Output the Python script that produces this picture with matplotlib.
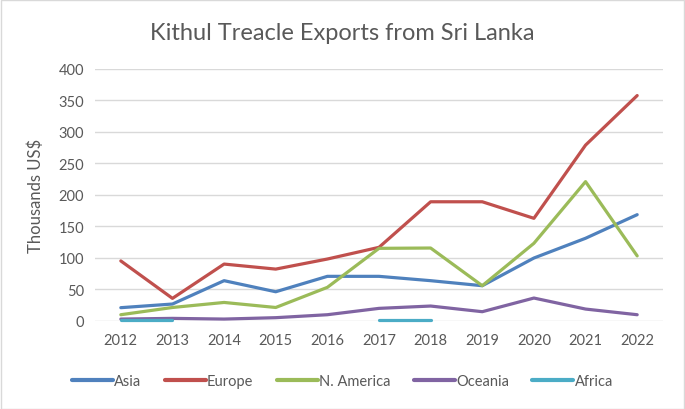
import matplotlib
matplotlib.use("Agg")
import matplotlib.pyplot as plt
from matplotlib.patches import Rectangle
import numpy as np

years = ["2012", "2013", "2014", "2015", "2016", "2017", "2018", "2019", "2020", "2021", "2022"]
asia = [20.7, 26.5, 63.6, 46, 70.5, 70.5, 63.6, 55.6, 99.6, 131, 168.5]
europe = [95, 35.5, 90, 82, 98, 116.6, 189, 189, 162.7, 279, 357.8]
n_america = [9.5, 21, 29, 21, 53, 115, 115.5, 55.6, 123, 221, 103]
oceania = [2.6, 3.7, 2.6, 4.8, 9.5, 19.6, 23.3, 14.3, 36, 18.5, 9.5]
africa = [0.5, 0.5, None, None, None, 0.5, 0.5, None, None, None, None]

series = [("Asia", asia, "#4F81BD"), ("Europe", europe, "#C0504D"),
          ("N. America", n_america, "#9BBB59"), ("Oceania", oceania, "#8064A2"),
          ("Africa", africa, "#4BACC6")]

plt.rcParams['font.family'] = ['Lato', 'DejaVu Sans']
fig = plt.figure(figsize=(6.85, 4.1), dpi=100)
ax = fig.add_axes([95/685, 1-321.7/410, (663-95)/685, (321.7-70)/410])

x = np.arange(len(years))
for name, vals, col in series:
    v = np.array([np.nan if a is None else a for a in vals], dtype=float)
    ax.plot(x, v, color=col, lw=2.3, label=name, solid_capstyle='round',
            solid_joinstyle='round', clip_on=False)

ax.set_xlim(-0.5, len(years) - 0.5)
ax.set_ylim(0, 400)
ax.set_yticks(range(0, 401, 50))
ax.set_xticks(x)
ax.set_xticklabels(years)
ax.grid(axis='y', color='#D9D9D9', lw=1)
ax.set_axisbelow(True)
for s in ax.spines.values():
    s.set_visible(False)
ax.tick_params(length=0, labelsize=10.5, colors='#595959', pad=8)
ax.tick_params(axis='x', pad=9)
ax.set_ylabel("Thousands US$", fontsize=12, color='#595959', labelpad=10)

fig.text(0.5, 1-33/410, "Kithul Treacle Exports from Sri Lanka", ha='center', va='center',
         fontsize=17, color='#595959')

leg = fig.legend(loc='center', bbox_to_anchor=(0.5, 1-382/410), ncol=5, frameon=False,
                 fontsize=10.5, handlelength=2.8, handletextpad=0.1, columnspacing=1.6)
for t in leg.get_texts():
    t.set_color('#595959')
for h in leg.get_lines():
    h.set_linewidth(3)

fig.patches.append(Rectangle((0.5/685, 0.5/410), 1-1.5/685, 1-1.5/410, transform=fig.transFigure,
                             fill=False, edgecolor='#D9D9D9', lw=1))
fig.savefig("out.png", dpi=100, facecolor='white')
